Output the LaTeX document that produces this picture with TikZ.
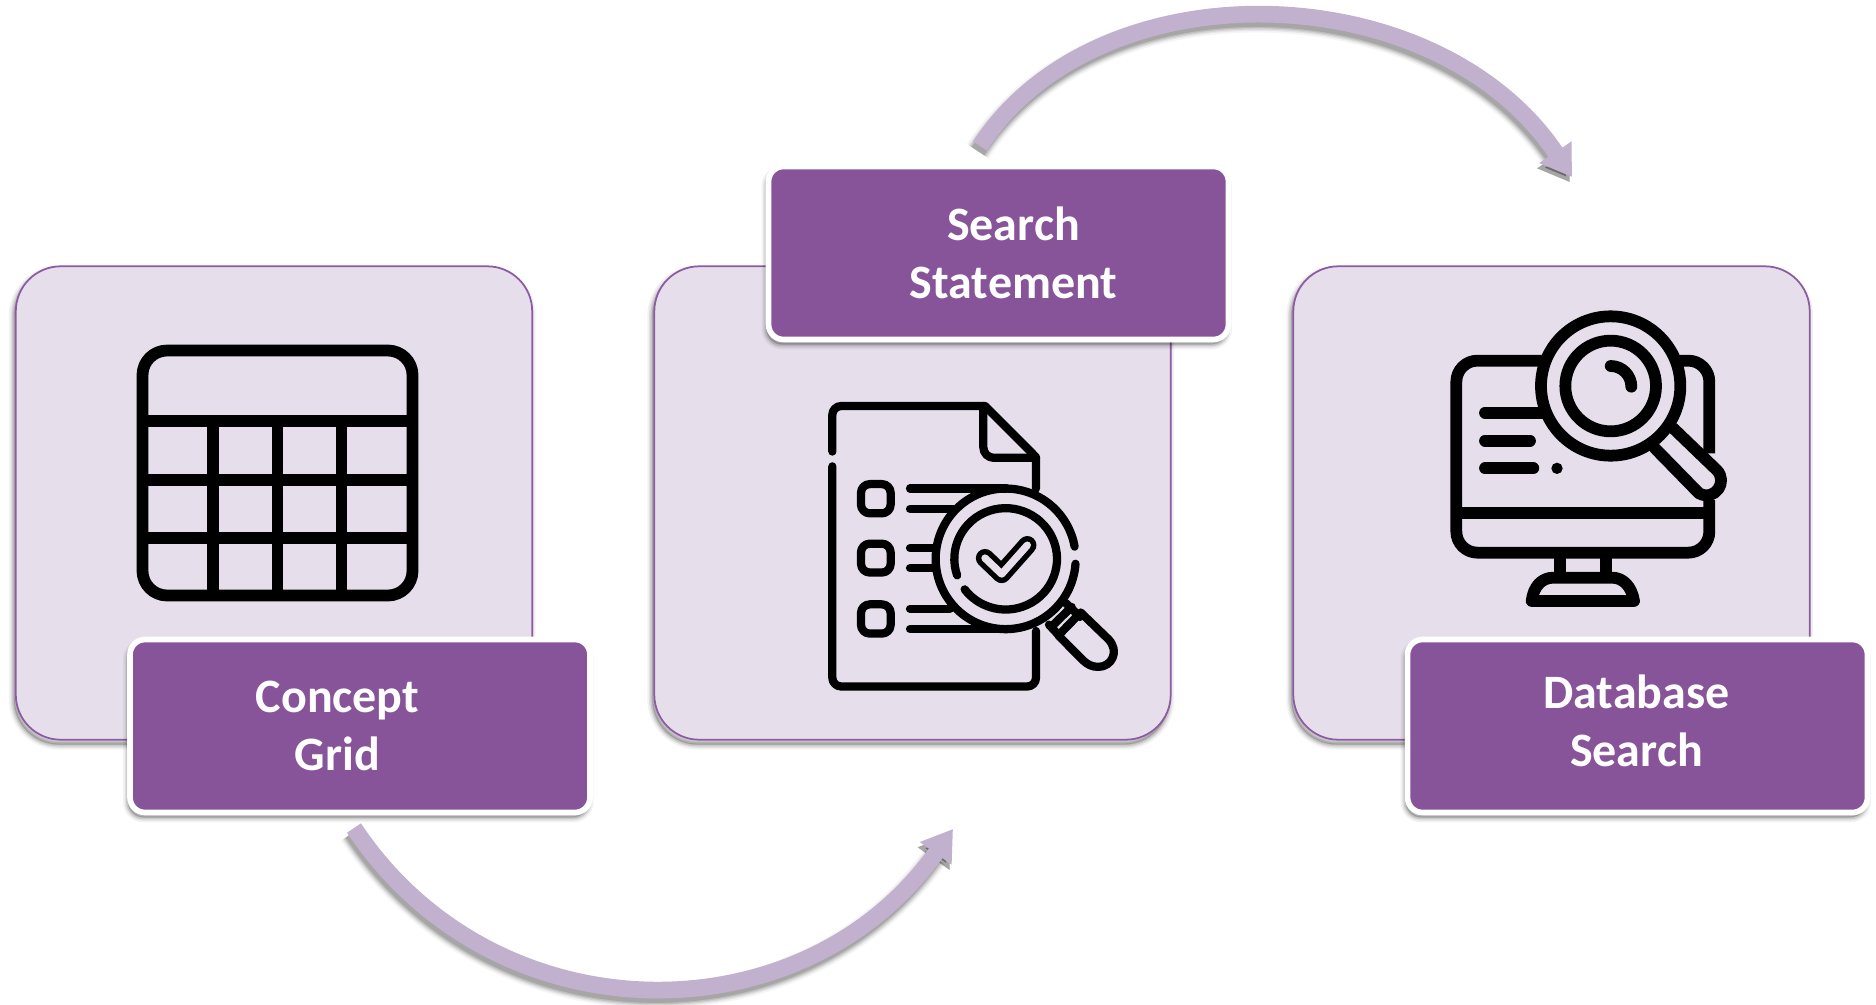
\documentclass[tikz,border=0pt]{standalone}
\usepackage{fontspec}
\setmainfont{Carlito}
\usetikzlibrary{arrows.meta}
\definecolor{cardfill}{HTML}{E6DFEB}
\definecolor{cardline}{HTML}{8D5BA3}
\definecolor{labelfill}{HTML}{87549A}
\definecolor{arrowfill}{HTML}{C2B1CE}
\tikzset{
  softshadow/.style={
    preaction={draw=black,opacity=.05,line width=6pt,transform canvas={xshift=-1pt,yshift=-2.6pt}},
    preaction={draw=black,opacity=.07,line width=4pt,transform canvas={xshift=-1pt,yshift=-2.6pt}},
    preaction={draw=black,opacity=.10,line width=2.4pt,transform canvas={xshift=-1pt,yshift=-2.6pt}},
    preaction={draw=black,fill=black,opacity=.12,line width=.8pt,transform canvas={xshift=-1pt,yshift=-2.6pt}}},
  card/.style={softshadow,draw=cardline,fill=cardfill,line width=1pt,rounded corners=.9cm,
    minimum width=10.33cm,minimum height=9.47cm,outer sep=0pt},
  labelbox/.style={softshadow,draw=white,fill=labelfill,line width=3.2pt,rounded corners=.3cm,
    minimum width=9.2cm,minimum height=3.46cm,outer sep=0pt},
  labeltext/.style={text=white,font=\fontsize{27.3}{33}\selectfont\bfseries,align=center,inner sep=0pt},
  bigarrow/.style={draw=arrowfill,line width=9.5pt,-{Triangle[length=17pt,width=21pt]}},
  arrowshade/.style={draw=black,opacity=#1,-{Triangle[length=17pt,width=21pt]},transform canvas={xshift=-1.2pt,yshift=-3pt}},
  iconthin/.style={draw=black,line width=4.7pt,line cap=round,line join=round},
  iconmid/.style={draw=black,line width=6.7pt,line cap=round,line join=round},
}
\begin{document}
\begin{tikzpicture}[x=0.02cm,y=-0.02cm]
\useasboundingbox (0,0) rectangle (1876,1004);
\fill[white] (0,0) rectangle (1876,1004);

% cards
\node[card] (c1) at (274,503) {};
\node[card] (c2) at (912.5,503) {};
\node[card] (c3) at (1551.5,503) {};

% connector end points
\coordinate (a1s) at (354,828);
\coordinate (a1e) at (953,829);
\coordinate (a2s) at (980,146);
\coordinate (a2e) at (1572,177);

% curved arrows
\foreach \w/\o in {15/.04,13/.06,11.5/.08,10/.10,8.5/.12}{
  \draw[arrowshade=\o,line width=\w pt] (a1s) .. controls (495,1040) and (803,1040) .. (a1e);
  \draw[arrowshade=\o,line width=\w pt] (a2s) .. controls (1098,-36) and (1436,-26) .. (a2e);
}
\draw[bigarrow] (a1s) .. controls (495,1040) and (803,1040) .. (a1e);
\draw[bigarrow] (a2s) .. controls (1098,-36) and (1436,-26) .. (a2e);

% labels
\node[labelbox] (l1) at (360,726) {};
\node[labelbox] (l2) at (998.5,253) {};
\node[labelbox] (l3) at (1637.5,726) {};
\node[labeltext] (t1) at (337.5,726) {Concept\\Grid};
\node[labeltext] (t2) at (1013.5,252.5) {Search\\Statement};
\node[labeltext] (t3) at (1636.5,720.5) {Database\\Search};

% table icon
\draw[iconmid,line cap=butt,rounded corners=14pt] (142.5,350.5) rectangle (412.5,595.5);
\draw[iconmid,line cap=butt]
  (142.5,421) -- (412.5,421) (142.5,480) -- (412.5,480) (142.5,538) -- (412.5,538)
  (213,421) -- (213,595.5) (277.5,421) -- (277.5,595.5) (341.5,421) -- (341.5,595.5);

% document icon
\begin{scope}[shift={(750,150)},xscale=1/3,yscale=0.37]
  \draw[iconthin,rounded corners=5pt] (247,815) -- (247,692) -- (705,692);
  \draw[iconthin] (705,692) -- (858,830) -- (858,915);
  \draw[iconthin,rounded corners=5pt] (858,1300) -- (858,1450) -- (247,1450) -- (247,855);
  \draw[iconthin,rounded corners=6pt] (700,692) -- (700,832) -- (858,832);
  \draw[iconthin,rounded corners=5pt] (333,903) rectangle (422,982);
  \draw[iconthin,rounded corners=5pt] (333,1064) rectangle (422,1142);
  \draw[iconthin,rounded corners=5pt] (333,1228) rectangle (422,1307);
  \draw[iconthin] (480,915) -- (770,915) (480,970) -- (610,970) (480,1076) -- (548,1076)
     (480,1130) -- (548,1130) (480,1240) -- (600,1240) (480,1295) -- (765,1295);
  \begin{scope}[shift={(767,1105)}]
    \draw[iconthin] (4:210 and 190) arc[start angle=4,end angle=350,x radius=210,y radius=190];
    \draw[iconthin] (161:154 and 137) arc[start angle=161,end angle=503,x radius=154,y radius=137];
  \end{scope}
  \draw[draw=black,line width=10.4pt,line cap=round,line join=round] (705,1103) -- (755,1146) -- (832,1068);
  \draw[draw=cardfill,line width=4.2pt,line cap=round,line join=round] (705,1103) -- (755,1146) -- (832,1068);
  \draw[iconthin] (948,1225) -- (990,1262) (897,1283) -- (925,1310) (908,1285) -- (965,1235);
  \draw[iconthin] (925,1312) -- (992,1250) -- (1075,1322) .. controls (1110,1355) and (1085,1397) .. (1045,1397) .. controls (1025,1397) and (1012,1390) .. (1000,1380) -- cycle;
\end{scope}

% monitor icon
\begin{scope}[shift={(1400,280)},scale=1/3]
  \draw[iconmid,line cap=butt,rounded corners=12pt] (430,242) -- (169,242) -- (169,818) -- (928,818) -- (928,660);
  \draw[iconmid,line cap=butt,rounded corners=12pt] (835,242) -- (928,242) -- (928,520);
  \draw[iconmid,line cap=butt] (169,700) -- (928,700) (479,818) -- (479,893) (617,818) -- (617,893);
  \draw[iconmid,line join=round] (395,963) .. controls (400,920) and (425,893) .. (460,893) -- (636,893) .. controls (670,893) and (695,920) .. (702,963) -- cycle;
  \draw[iconmid] (255,398) -- (430,398) (255,482) -- (390,482) (255,565) -- (400,565);
  \fill (471,565) circle[radius=17];
  \draw[iconmid] (632,318) circle[radius=209];
  \draw[iconmid] (632,318) circle[radius=136];
  \draw[iconmid] (632,258) arc[start angle=-90,end angle=0,radius=62];
  \draw[iconmid] (820,445) -- (950,570) .. controls (985,605) and (945,665) .. (897,640) -- (765,505);
\end{scope}
\end{tikzpicture}
\end{document}
